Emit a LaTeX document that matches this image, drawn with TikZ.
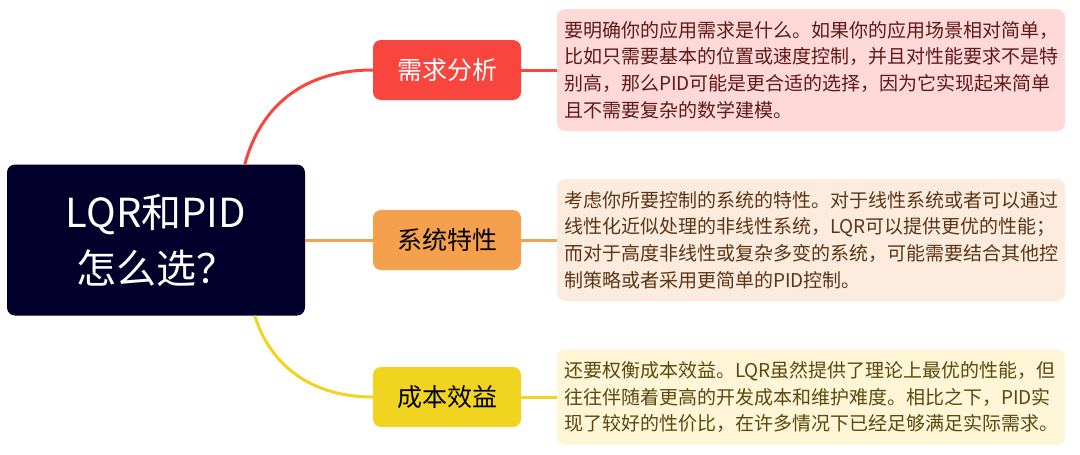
\documentclass[tikz,border=0pt]{standalone}
\usepackage{fontspec}
\setmainfont{Noto Sans CJK SC}
\definecolor{rootfill}{HTML}{02002B}
\definecolor{cred}{HTML}{F8463F}
\definecolor{corange}{HTML}{F5A04C}
\definecolor{cyellow}{HTML}{F0D41F}
\definecolor{dpink}{HTML}{FFD8D8}
\definecolor{dpeach}{HTML}{FDEBDD}
\definecolor{dyellow}{HTML}{FEF6D6}
\definecolor{tred}{HTML}{5E1A1A}
\definecolor{tbrown}{HTML}{5A3618}
\definecolor{tolive}{HTML}{5A4810}
\begin{document}
\begin{tikzpicture}[x=1pt,y=-1pt,
  rootbox/.style={fill=rootfill,rounded corners=8pt,minimum width=298pt,minimum height=151pt,inner sep=0pt,text=white,align=center,font=\fontsize{40}{56}\selectfont},
  branchbox/.style={rounded corners=8pt,minimum width=148pt,minimum height=60pt,inner sep=0pt,font=\fontsize{25}{30}\selectfont},
  detailbox/.style={rounded corners=8pt,minimum width=508pt,inner sep=0pt,align=left,font=\fontsize{19}{26.7}\selectfont},
  conn/.style={line width=3pt}
]
\useasboundingbox (0,0) rectangle (1080,455);
\node[rootbox] (root) at (156,240) {LQR和PID\\怎么选？};
\node[branchbox,fill=cred,text=white] (b1) at (447,70) {需求分析};
\node[branchbox,fill=corange,text=black] (b2) at (447,240) {系统特性};
\node[branchbox,fill=cyellow,text=black] (b3) at (447,397) {成本效益};
\node[detailbox,fill=dpink,text=tred,minimum height=122pt] (d1) at (811,70) {要明确你的应用需求是什么。如果你的应用场景相对简单，\\比如只需要基本的位置或速度控制，并且对性能要求不是特\\别高，那么PID可能是更合适的选择，因为它实现起来简单\\且不需要复杂的数学建模。};
\node[detailbox,fill=dpeach,text=tbrown,minimum height=122pt] (d2) at (811,240) {考虑你所要控制的系统的特性。对于线性系统或者可以通过\\线性化近似处理的非线性系统，LQR可以提供更优的性能；\\而对于高度非线性或复杂多变的系统，可能需要结合其他控\\制策略或者采用更简单的PID控制。};
\node[detailbox,fill=dyellow,text=tolive,minimum height=96pt] (d3) at (811,397) {还要权衡成本效益。LQR虽然提供了理论上最优的性能，但\\往往伴随着更高的开发成本和维护难度。相比之下，PID实\\现了较好的性价比，在许多情况下已经足够满足实际需求。};
\draw[conn,cred] ([xshift=238pt]root.north west) .. controls (258,115) and (295,70) .. (b1.west);
\draw[conn,cyellow] ([xshift=248pt]root.south west) .. controls (268,359) and (305,397) .. (b3.west);
\draw[conn,corange] (root.east) -- (b2.west);
\draw[conn,cred] (b1.east) -- (d1.west);
\draw[conn,corange] (b2.east) -- (d2.west);
\draw[conn,cyellow] (b3.east) -- (d3.west);
\end{tikzpicture}
\end{document}
